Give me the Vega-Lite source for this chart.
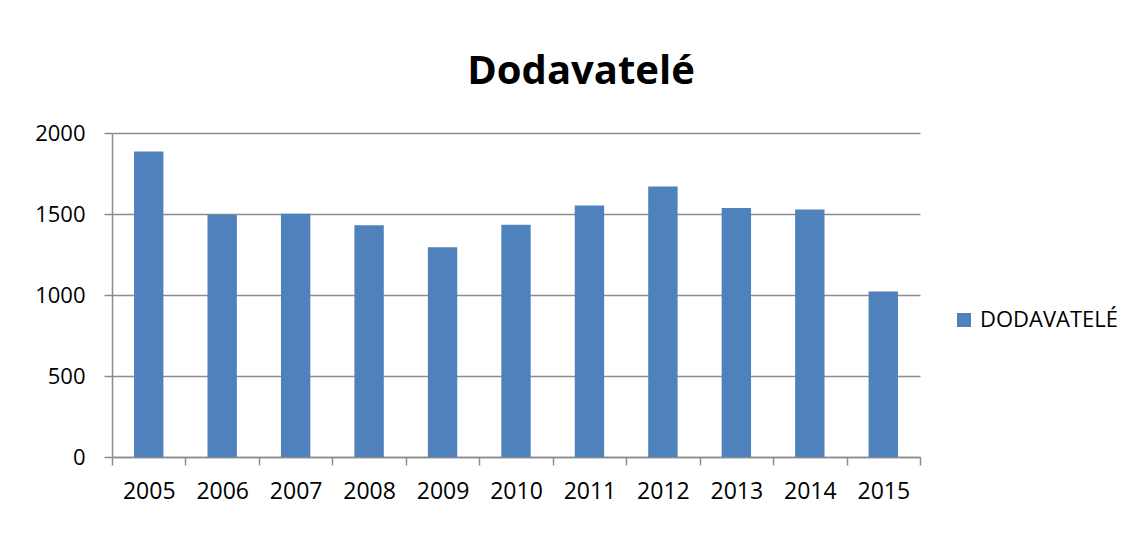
{
  "$schema": "https://vega.github.io/schema/vega-lite/v6.json",
  "width": 808,
  "height": 324,
  "autosize": {"type": "none"},
  "padding": {"left": 112, "top": 133, "right": 220, "bottom": 80},
  "background": "white",
  "config": {"view": {"stroke": null}, "font": "Open Sans"},
  "title": {
    "text": "Dodavatelé",
    "font": "Open Sans",
    "fontSize": 40,
    "fontWeight": "bold",
    "color": "black",
    "anchor": "middle",
    "frame": "group",
    "dx": 65,
    "offset": -2,
    "baseline": "alphabetic"
  },
  "data": {
    "values": [
      {"year": "2005", "value": 1886},
      {"year": "2006", "value": 1496},
      {"year": "2007", "value": 1502},
      {"year": "2008", "value": 1430},
      {"year": "2009", "value": 1294},
      {"year": "2010", "value": 1434},
      {"year": "2011", "value": 1553},
      {"year": "2012", "value": 1669},
      {"year": "2013", "value": 1537},
      {"year": "2014", "value": 1528},
      {"year": "2015", "value": 1022}
    ]
  },
  "mark": {"type": "bar", "width": {"band": 0.4}},
  "encoding": {
    "x": {
      "field": "year",
      "type": "ordinal",
      "scale": {"paddingInner": 0, "paddingOuter": 0},
      "axis": {
        "title": null,
        "labelAngle": 0,
        "tickBand": "extent",
        "tickSize": 8,
        "tickColor": "#8c8c8c",
        "tickWidth": 1.5,
        "domainColor": "#8c8c8c",
        "domainWidth": 1.5,
        "labelFont": "Open Sans",
        "labelFontSize": 23,
        "labelColor": "black",
        "labelPadding": 15
      }
    },
    "y": {
      "field": "value",
      "type": "quantitative",
      "scale": {"domain": [0, 2000]},
      "axis": {
        "title": null,
        "values": [0, 500, 1000, 1500, 2000],
        "format": "d",
        "grid": true,
        "gridColor": "#8c8c8c",
        "gridWidth": 1.5,
        "tickSize": 8,
        "tickColor": "#8c8c8c",
        "tickWidth": 1.5,
        "domainColor": "#8c8c8c",
        "domainWidth": 1.5,
        "labelFont": "Open Sans",
        "labelFontSize": 22,
        "labelColor": "black",
        "labelPadding": 19
      }
    },
    "color": {
      "datum": "DODAVATELÉ",
      "type": "nominal",
      "scale": {"range": ["#4F81BD"]},
      "legend": {
        "title": null,
        "orient": "none",
        "legendX": 841,
        "legendY": 176,
        "padding": 0,
        "symbolType": "square",
        "symbolSize": 196,
        "symbolStrokeWidth": 0,
        "symbolOpacity": 1,
        "labelFont": "Open Sans",
        "labelFontSize": 22,
        "labelColor": "black",
        "labelOffset": 5
      }
    }
  }
}
